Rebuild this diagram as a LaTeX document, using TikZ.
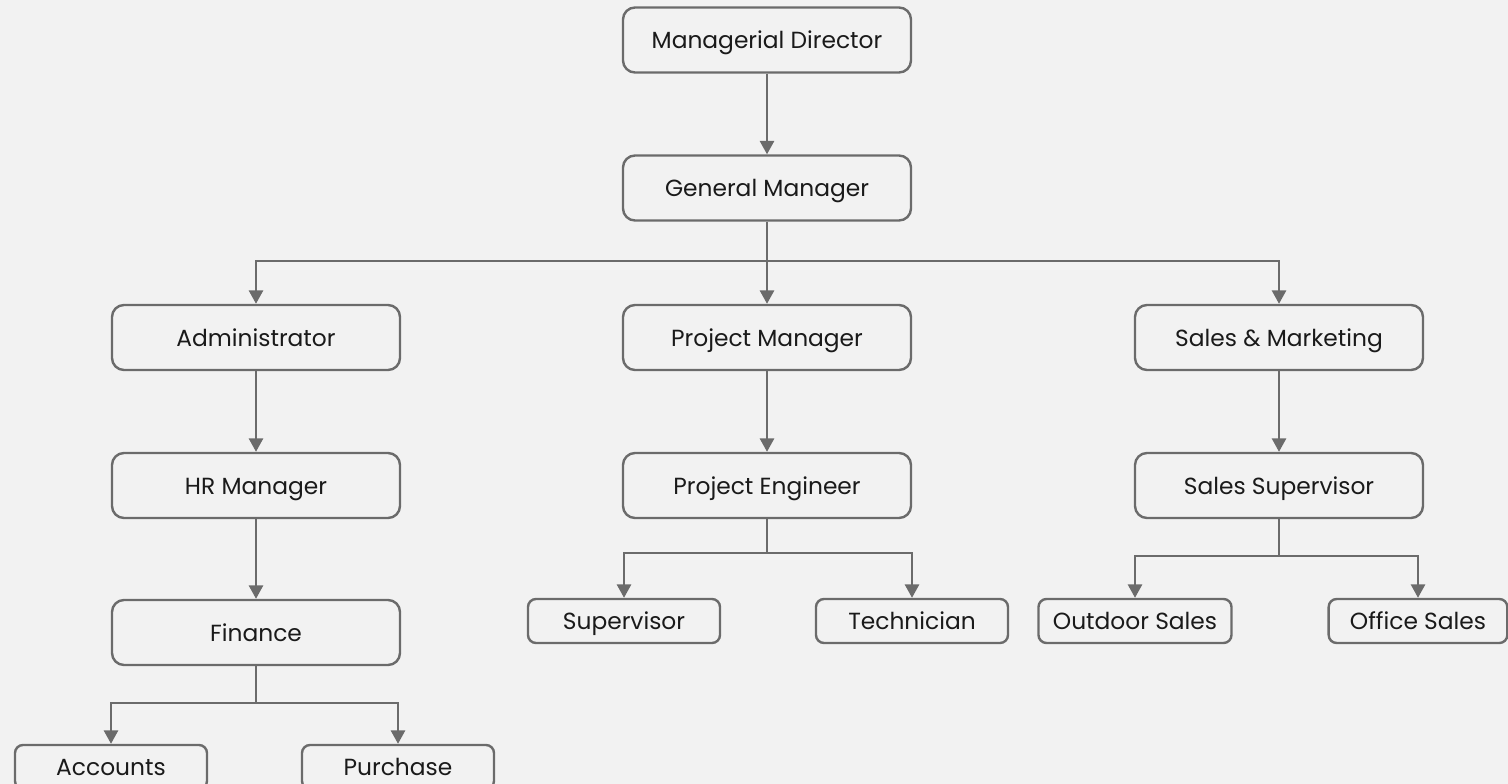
\documentclass[tikz,border=0pt]{standalone}
\usepackage{fontspec}
\setmainfont{Poppins}
\usetikzlibrary{arrows.meta}
\definecolor{bg}{HTML}{F2F2F2}
\definecolor{ln}{HTML}{6B6B6B}
\definecolor{tx}{HTML}{1A1A1A}
\tikzset{
  box/.style={draw=ln, line width=1.8pt, rounded corners=9pt, fill=bg, text=tx,
    minimum width=216pt, minimum height=48.75pt, inner sep=0pt,
    text height=13pt, text depth=0pt, font=\fontsize{17.5}{20}\selectfont},
  sbox/.style={box, rounded corners=6pt, minimum width=144pt, minimum height=33pt},
  conn/.style={draw=ln, line width=1.8pt},
  arr/.style={conn, -{Triangle[width=10.5pt,length=10pt]}}
}
\begin{document}
\begin{tikzpicture}[x=0.75pt,y=-0.75pt]
\fill[bg] (0,0) rectangle (1508,784);
\useasboundingbox (0,0) rectangle (1508,784);
\clip (0,0) rectangle (1508,784);
\node[box] (md) at (767,40) {Managerial Director};
\node[box] (gm) at (767,188) {General Manager};
\node[box] (adm) at (256,337.5) {Administrator};
\node[box] (pm) at (767,337.5) {Project Manager};
\node[box] (sm) at (1279,337.5) {Sales \& Marketing};
\node[box] (hr) at (256,485.5) {HR Manager};
\node[box] (pe) at (767,485.5) {Project Engineer};
\node[box] (ss) at (1279,485.5) {Sales Supervisor};
\node[box] (fin) at (256,632.5) {Finance};
\node[sbox] (sup) at (624,621) {Supervisor};
\node[sbox] (tec) at (912,621) {Technician};
\node[sbox, minimum width=144.75pt] (out) at (1135,621) {Outdoor Sales};
\node[sbox, minimum width=134pt] (off) at (1418,621) {Office Sales};
\node[sbox] (acc) at (111,767) {Accounts};
\node[sbox] (pur) at (398,767) {Purchase};
\coordinate (j1) at (767,261);
\coordinate (j2) at (767,553);
\coordinate (j3) at (1279,556);
\coordinate (j4) at (256,703);
\draw[arr] (md) -- (gm);
\draw[conn] (gm.south) -- (j1);
\draw[arr] (j1) -| (adm.north);
\draw[arr] (j1) -- (pm.north);
\draw[arr] (j1) -| (sm.north);
\draw[arr] (adm) -- (hr);
\draw[arr] (pm) -- (pe);
\draw[arr] (sm) -- (ss);
\draw[arr] (hr) -- (fin);
\draw[conn] (pe.south) -- (j2);
\draw[arr] (j2) -| (sup.north);
\draw[arr] (j2) -| (tec.north);
\draw[conn] (ss.south) -- (j3);
\draw[arr] (j3) -| (out.north);
\draw[arr] (j3) -| (off.north);
\draw[conn] (fin.south) -- (j4);
\draw[arr] (j4) -| (acc.north);
\draw[arr] (j4) -| (pur.north);
\end{tikzpicture}
\end{document}
